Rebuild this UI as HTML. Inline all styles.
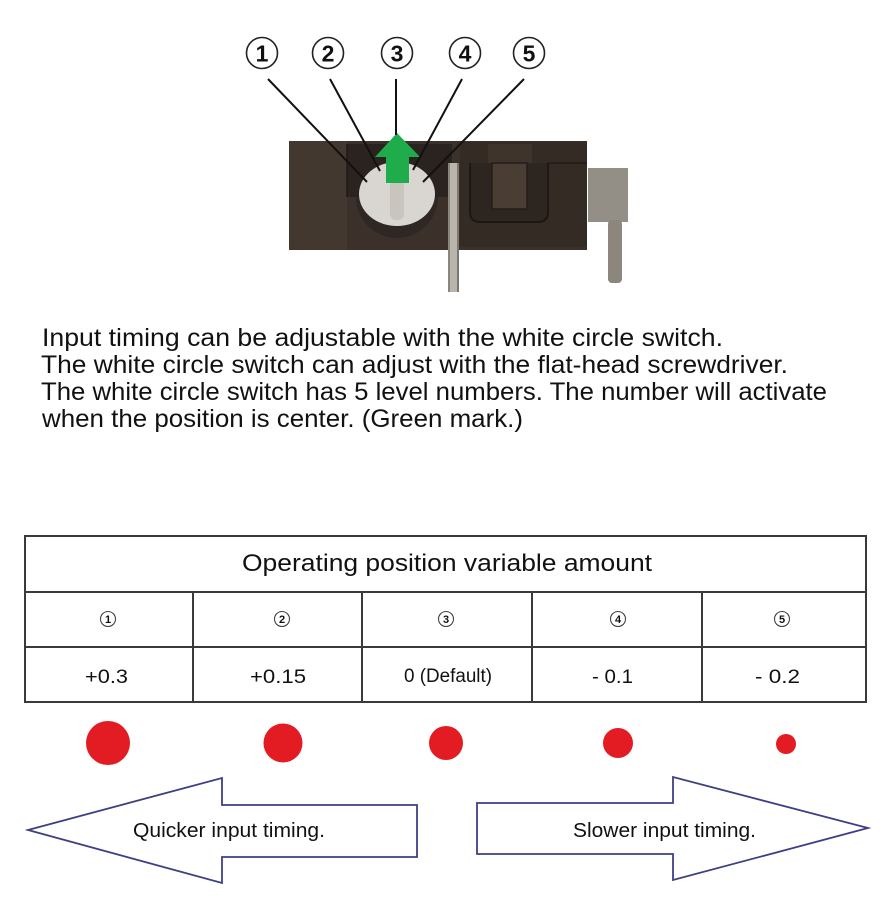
<!DOCTYPE html>
<html><head><meta charset="utf-8"><style>
html,body{margin:0;padding:0;background:#fff;}
svg{display:block;}
text{font-family:"Liberation Sans",sans-serif;fill:#111;}
</style></head><body>
<svg width="896" height="920" viewBox="0 0 896 920" xmlns="http://www.w3.org/2000/svg">
<rect width="896" height="920" fill="#fff"/>

<!-- circled numbers top -->
<g stroke="#222" stroke-width="1.6" fill="none">
<circle cx="262" cy="53" r="15.5"/>
<circle cx="328" cy="53" r="15.5"/>
<circle cx="397" cy="53" r="15.5"/>
<circle cx="465" cy="53" r="15.5"/>
<circle cx="529" cy="53" r="15.5"/>
</g>
<g font-size="23" font-weight="bold" text-anchor="middle">
<text x="262" y="61.5">1</text>
<text x="328" y="61.5">2</text>
<text x="397" y="61.5">3</text>
<text x="465" y="61.5">4</text>
<text x="529" y="61.5">5</text>
</g>

<!-- switch body -->
<rect x="289" y="141" width="298" height="109" fill="#3b312a"/>
<rect x="289" y="141" width="58" height="109" fill="#43382f"/>
<rect x="347" y="144" width="105" height="53" fill="#2b231f"/>
<line x1="347" y1="144" x2="347" y2="197" stroke="#1e1815" stroke-width="1.5"/>
<rect x="460" y="142" width="127" height="105" fill="#342b25"/>
<path d="M470 163 L470 212 Q470 222 480 222 L538 222 Q548 222 548 212 L548 163" fill="#2d2520" stroke="#1d1714" stroke-width="2"/>
<rect x="488" y="144" width="44" height="19" fill="#3f342c"/>
<rect x="492" y="163" width="35" height="46" fill="#4a3e34" stroke="#241d19" stroke-width="1.5"/>
<line x1="548" y1="163" x2="587" y2="163" stroke="#221b17" stroke-width="1.5"/>
<!-- circle switch -->
<path d="M356 197 A41 41 0 0 0 438 197 Z" fill="#2e2724"/>
<ellipse cx="397" cy="194" rx="38" ry="32" fill="#d9d5d0"/>
<rect x="390" y="180" width="14" height="40" rx="6" fill="#c9c4be"/>
<!-- middle pin -->
<rect x="448" y="163" width="11" height="129" fill="#b9b5ad"/>
<rect x="448" y="163" width="2" height="129" fill="#8a857d"/>
<rect x="457" y="163" width="2" height="129" fill="#7d786f"/>
<!-- right terminal -->
<rect x="588" y="168" width="40" height="54" fill="#948f86"/>
<rect x="608" y="220" width="14" height="63" rx="4" fill="#8c867d"/>

<!-- green arrow -->
<polygon points="397,133 420,157 409,157 409,183 386,183 386,157 375,157" fill="#1fad4c"/>

<!-- leader lines -->
<g stroke="#111" stroke-width="2">
<line x1="268" y1="79" x2="367" y2="182"/>
<line x1="330" y1="79" x2="380" y2="171"/>
<line x1="396" y1="79" x2="396" y2="135"/>
<line x1="462" y1="79" x2="413" y2="170"/>
<line x1="524" y1="79" x2="423" y2="182"/>
</g>

<!-- paragraph -->
<g font-size="25">
<text x="42" y="346" textLength="681" lengthAdjust="spacingAndGlyphs">Input timing can be adjustable with the white circle switch.</text>
<text x="41" y="373" textLength="747" lengthAdjust="spacingAndGlyphs">The white circle switch can adjust with the flat-head screwdriver.</text>
<text x="41" y="400" textLength="786" lengthAdjust="spacingAndGlyphs">The white circle switch has 5 level numbers. The number will activate</text>
<text x="42" y="427" textLength="481" lengthAdjust="spacingAndGlyphs">when the position is center. (Green mark.)</text>
</g>

<!-- table -->
<g stroke="#3a3a3a" stroke-width="2" fill="none">
<rect x="25" y="536" width="841" height="166"/>
<line x1="25" y1="592" x2="866" y2="592"/>
<line x1="25" y1="647" x2="866" y2="647"/>
<line x1="193" y1="592" x2="193" y2="702"/>
<line x1="362" y1="592" x2="362" y2="702"/>
<line x1="532" y1="592" x2="532" y2="702"/>
<line x1="702" y1="592" x2="702" y2="702"/>
</g>
<text x="242" y="571" font-size="24" textLength="410" lengthAdjust="spacingAndGlyphs">Operating position variable amount</text>
<g stroke="#444" stroke-width="1.1" fill="none">
<circle cx="108" cy="619" r="7.5"/>
<circle cx="282" cy="619" r="7.5"/>
<circle cx="446" cy="619" r="7.5"/>
<circle cx="618" cy="619" r="7.5"/>
<circle cx="782" cy="619" r="7.5"/>
</g>
<g font-size="11" text-anchor="middle" font-weight="bold">
<text x="108" y="623" fill="#333">1</text>
<text x="282" y="623" fill="#333">2</text>
<text x="446" y="623" fill="#333">3</text>
<text x="618" y="623" fill="#333">4</text>
<text x="782" y="623" fill="#333">5</text>
</g>
<g font-size="19">
<text x="85" y="683" textLength="43" lengthAdjust="spacingAndGlyphs">+0.3</text>
<text x="250" y="683" textLength="56" lengthAdjust="spacingAndGlyphs">+0.15</text>
<text x="404" y="682" textLength="88" lengthAdjust="spacingAndGlyphs">0 (Default)</text>
<text x="592" y="683" textLength="41" lengthAdjust="spacingAndGlyphs">- 0.1</text>
<text x="755" y="683" textLength="45" lengthAdjust="spacingAndGlyphs">- 0.2</text>
</g>

<!-- red dots -->
<g fill="#e31b23">
<circle cx="108" cy="743" r="22"/>
<circle cx="283" cy="743" r="19.5"/>
<circle cx="446" cy="743" r="17"/>
<circle cx="618" cy="743" r="15"/>
<circle cx="786" cy="744" r="10"/>
</g>

<!-- arrows -->
<polygon points="28,830 222,778 222,805 417,805 417,857 222,857 222,883" fill="#fff" stroke="#3d3f85" stroke-width="1.8" stroke-linejoin="miter"/>
<polygon points="477,803 673,803 673,777 868,828 673,880 673,854 477,854" fill="#fff" stroke="#3d3f85" stroke-width="1.8" stroke-linejoin="miter"/>
<text x="133" y="837" font-size="20" textLength="192" lengthAdjust="spacingAndGlyphs">Quicker input timing.</text>
<text x="573" y="837" font-size="20" textLength="183" lengthAdjust="spacingAndGlyphs">Slower input timing.</text>
</svg>
</body></html>
